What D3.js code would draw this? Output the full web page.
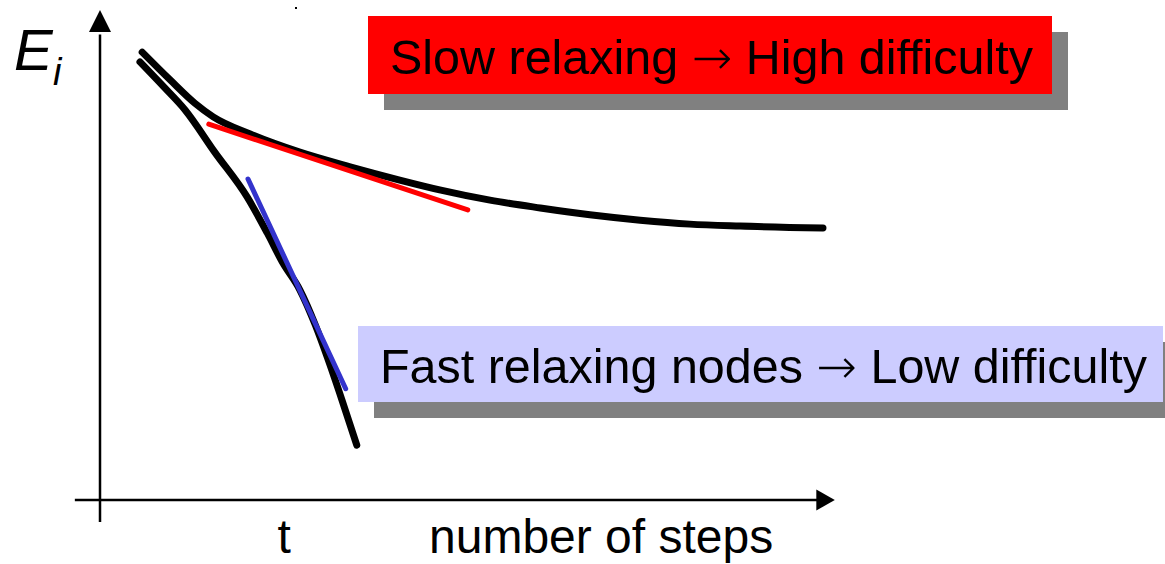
<!DOCTYPE html>
<html>
<head>
<meta charset="utf-8">
<script src="https://cdn.jsdelivr.net/npm/d3@7"></script>
<style>
  html, body { margin: 0; padding: 0; background: #fff; }
  svg { display: block; }
</style>
</head>
<body>
<svg id="chart" width="1165" height="564"></svg>
<script>
// ---- data (x: number of steps, y: energy E_i, both in arbitrary 0-100 units) ----
const slowSteps  = [5.7, 9.5, 12.8, 15.3, 20.3, 27.0, 33.8, 40.5, 45.9, 52.7, 59.5, 66.2, 73.0, 79.7, 86.5, 97.7];
const slowEnergy = [91.4, 85.7, 81.0, 78.2, 74.7, 71.0, 68.0, 65.3, 63.3, 61.2, 59.6, 58.2, 57.1, 56.3, 55.9, 55.5];

const fastSteps  = [5.4, 8.5, 11.5, 15.5, 19.9, 22.6, 24.7, 27.0, 29.1, 30.7, 32.7, 34.7];
const fastEnergy = [89.4, 84.5, 79.6, 71.0, 61.8, 54.5, 48.4, 42.9, 35.7, 29.2, 20.4, 11.2];

const slowTangentSteps  = [14.7, 49.7];
const slowTangentEnergy = [76.7, 59.2];
const fastTangentSteps  = [20.0, 33.2];
const fastTangentEnergy = [65.5, 22.7];

const tickStep  = 24.9;              // the "t" mark on the step axis
const tickLabel = "t";
const xAxisLabel = "number of steps";
const slowLabel = ["Slow relaxing ", "\u2192", " High difficulty"];
const fastLabel = ["Fast relaxing nodes ", "\u2192", " Low difficulty"];

// ---- scales ----
const x = d3.scaleLinear().domain([0, 100]).range([100, 840]);
const y = d3.scaleLinear().domain([0, 100]).range([500, 10]);

const svg = d3.select("#chart");
const FONT = "Liberation Sans, Arial, sans-serif";

// ---- axes with arrows ----
svg.append("line")
  .attr("x1", x(0)).attr("x2", x(0))
  .attr("y1", y(-4.5)).attr("y2", y(95))
  .attr("stroke", "#000").attr("stroke-width", 2.5);
svg.append("path")
  .attr("d", `M${x(0)},${y(100)} L${x(0) - 11},${y(95.5)} L${x(0) + 11},${y(95.5)} Z`)
  .attr("fill", "#000");

svg.append("line")
  .attr("x1", x(-3.4)).attr("x2", x(97))
  .attr("y1", y(0)).attr("y2", y(0))
  .attr("stroke", "#000").attr("stroke-width", 2.5);
svg.append("path")
  .attr("d", `M${x(99.3)},${y(0)} L${x(96.8)},${y(0) - 10.5} L${x(96.8)},${y(0) + 10.5} Z`)
  .attr("fill", "#000");

// tiny stray dot present in the reference
svg.append("rect").attr("x", 295).attr("y", 7).attr("width", 2).attr("height", 2).attr("fill", "#000");

// ---- curves ----
const line = d3.line()
  .x(d => x(d[0]))
  .y(d => y(d[1]))
  .curve(d3.curveMonotoneX);

const zip = (a, b) => a.map((v, i) => [v, b[i]]);

svg.append("path")
  .datum(zip(slowSteps, slowEnergy))
  .attr("d", line)
  .attr("fill", "none").attr("stroke", "#000")
  .attr("stroke-width", 7).attr("stroke-linecap", "round").attr("stroke-linejoin", "round");

svg.append("path")
  .datum(zip(fastSteps, fastEnergy))
  .attr("d", line)
  .attr("fill", "none").attr("stroke", "#000")
  .attr("stroke-width", 7).attr("stroke-linecap", "round").attr("stroke-linejoin", "round");

const straight = d3.line().x(d => x(d[0])).y(d => y(d[1]));

svg.append("path")
  .datum(zip(slowTangentSteps, slowTangentEnergy))
  .attr("d", straight)
  .attr("fill", "none").attr("stroke", "#ff0000")
  .attr("stroke-width", 5).attr("stroke-linecap", "round");

svg.append("path")
  .datum(zip(fastTangentSteps, fastTangentEnergy))
  .attr("d", straight)
  .attr("fill", "none").attr("stroke", "#3333cc")
  .attr("stroke-width", 5).attr("stroke-linecap", "round");

// ---- E_i label ----
svg.append("text")
  .attr("x", 14).attr("y", 70)
  .attr("font-family", FONT).attr("font-style", "italic")
  .attr("font-size", 58).attr("fill", "#000")
  .text("E");
svg.append("text")
  .attr("x", 53).attr("y", 85)
  .attr("font-family", FONT).attr("font-style", "italic")
  .attr("font-size", 38).attr("fill", "#000")
  .text("i");

// ---- axis texts ----
svg.append("text")
  .attr("x", x(tickStep)).attr("y", 553)
  .attr("text-anchor", "middle")
  .attr("font-family", FONT)
  .attr("font-size", 48).attr("fill", "#000")
  .text(tickLabel);

svg.append("text")
  .attr("x", 429).attr("y", 553)
  .attr("font-family", FONT)
  .attr("font-size", 48).attr("fill", "#000")
  .text(xAxisLabel);

// ---- annotation boxes with shadows ----
function box(bx, by, bw, bh, fill, parts, tx, ty, tlen) {
  svg.append("rect").attr("x", bx + 16).attr("y", by + 16).attr("width", bw).attr("height", bh).attr("fill", "#808080");
  svg.append("rect").attr("x", bx).attr("y", by).attr("width", bw).attr("height", bh).attr("fill", fill);
  const t = svg.append("text")
    .attr("x", tx).attr("y", ty)
    .attr("font-family", FONT)
    .attr("font-size", 48).attr("fill", "#000")
    .attr("textLength", tlen).attr("lengthAdjust", "spacingAndGlyphs");
  t.append("tspan").text(parts[0]);
  t.append("tspan").attr("font-family", "DejaVu Sans, sans-serif").attr("font-weight", 200).text(parts[1]);
  t.append("tspan").text(parts[2]);
}
box(368, 16, 684, 78, "#ff0000", slowLabel, 390, 74, 643);
box(358, 326, 805, 76, "#ccccff", fastLabel, 380, 383, 767);
</script>
</body>
</html>
